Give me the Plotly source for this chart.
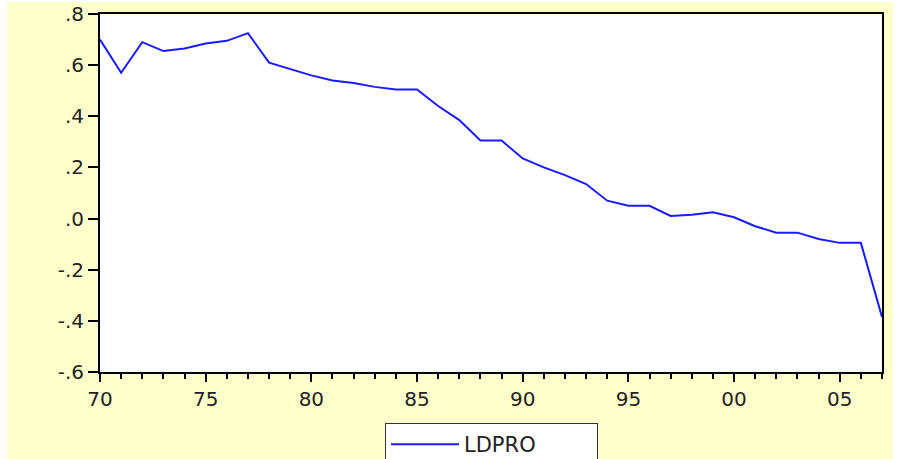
import plotly.graph_objects as go

years = list(range(1970, 2008))
ldpro = [0.70, 0.57, 0.69, 0.655, 0.665, 0.685, 0.695, 0.725, 0.61, 0.585,
         0.56, 0.54, 0.53, 0.515, 0.505, 0.505, 0.44, 0.385, 0.305, 0.305,
         0.235, 0.20, 0.17, 0.135, 0.07, 0.05, 0.05, 0.01, 0.015, 0.025,
         0.005, -0.03, -0.055, -0.055, -0.08, -0.095, -0.095, -0.385]

x_tickvals = [1970, 1975, 1980, 1985, 1990, 1995, 2000, 2005]
x_ticktext = ["70", "75", "80", "85", "90", "95", "00", "05"]
y_tickvals = [0.8, 0.6, 0.4, 0.2, 0.0, -0.2, -0.4, -0.6]
y_ticktext = [".8", ".6", ".4", ".2", ".0", "-.2", "-.4", "-.6"]

# page offset of the figure (white strips left/top in the reference)
OX, OY = 7, 2
W, H = 886, 457
L, R, T, B = 93, 11, 12, 87
pw, ph = W - L - R, H - T - B

def px(xp):
    return (xp - OX - L) / pw

def py(yp):
    return (H - B - (yp - OY)) / ph

fig = go.Figure()
fig.add_trace(go.Scatter(x=years, y=ldpro, mode="lines", name="LDPRO",
                         line=dict(color="#1a1aff", width=2)))

font_family = "DejaVu Sans, Arial, sans-serif"

fig.update_layout(
    width=W, height=H,
    margin=dict(l=L, r=R, t=T, b=B, autoexpand=False),
    paper_bgcolor="#FFFFCC",
    plot_bgcolor="white",
    showlegend=True,
    legend=dict(x=px(385), xanchor="left", y=py(423), yanchor="top",
                orientation="h", entrywidth=128,
                bgcolor="white", bordercolor="#333", borderwidth=1,
                font=dict(family=font_family, size=21, color="#222"),
                itemwidth=68),
    xaxis=dict(range=[1970, 2007], tickvals=x_tickvals, ticktext=x_ticktext,
               ticks="outside", ticklen=8, tickwidth=1.5, tickcolor="#000",
               minor=dict(dtick=1, tick0=1970, ticks="outside", ticklen=5,
                          tickwidth=1.5, tickcolor="#000", showgrid=False),
               showgrid=False, zeroline=False, showline=True, linecolor="#000",
               linewidth=2, mirror=True, ticklabeloverflow="allow",
               tickfont=dict(family=font_family, size=20, color="#222")),
    yaxis=dict(range=[-0.6, 0.8], tickvals=y_tickvals, ticktext=y_ticktext,
               ticks="outside", ticklen=10, tickwidth=1.5, tickcolor="#000",
               showgrid=False, zeroline=False, showline=True, linecolor="#000",
               linewidth=2, mirror=True, ticklabeloverflow="allow",
               tickfont=dict(family=font_family, size=20, color="#222")),
)

fig.write_html(
    "out.html",
    post_script="document.body.style.margin='%dpx 0 0 %dpx';"
                "document.body.style.overflow='hidden';" % (OY, OX),
)
